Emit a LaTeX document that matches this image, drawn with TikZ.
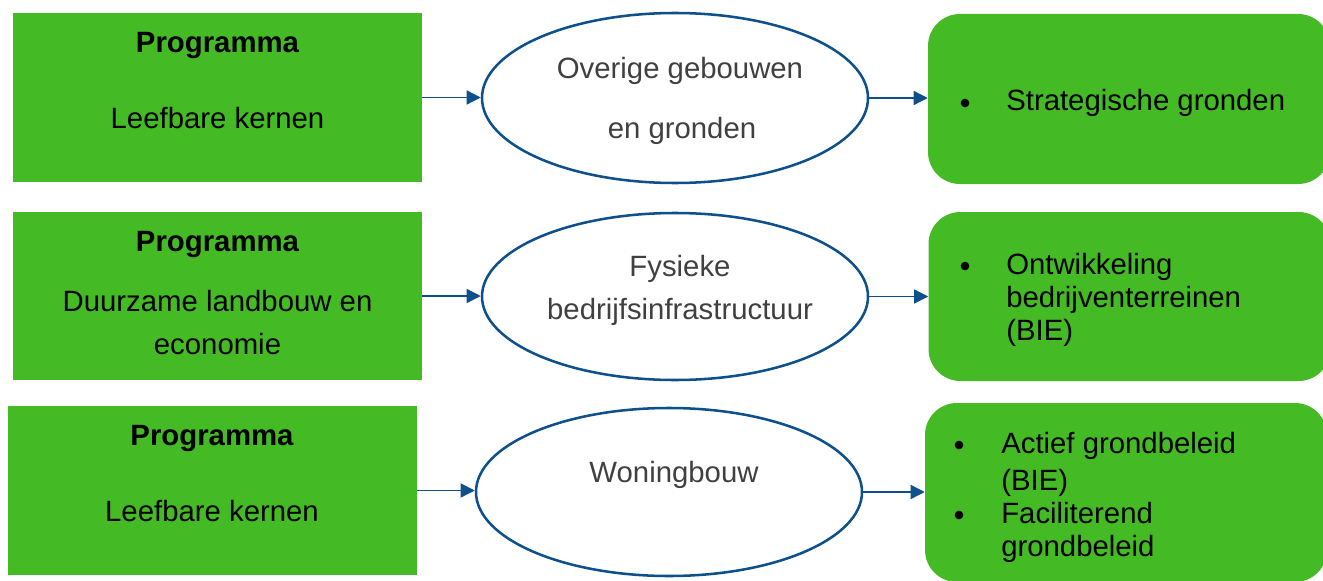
\documentclass[tikz,border=0pt]{standalone}
\usepackage{fontspec}
\setmainfont{Liberation Sans}
\usetikzlibrary{shapes.geometric,arrows.meta}
\definecolor{progreen}{RGB}{68,186,36}
\definecolor{lineblue}{RGB}{14,80,140}
\definecolor{ovaltext}{RGB}{64,64,64}
\tikzset{
	progbox/.style={rectangle, fill=progreen, inner sep=0pt, minimum width=306.75pt},
	oval/.style={ellipse, draw=lineblue, line width=1.9pt, fill=white, inner sep=0pt, minimum width=289.5pt},
	resbox/.style={rectangle, rounded corners=24pt, fill=progreen, inner sep=0pt, minimum width=301.5pt},
	txt/.style={anchor=base, inner sep=0pt, font=\fontsize{22}{26}\selectfont},
	ltxt/.style={txt, anchor=base west},
	dot/.style={circle, fill=black, inner sep=0pt, minimum size=6.5pt},
	arr/.style={draw=lineblue, line width=1pt, -{Triangle[length=10.5pt,width=10.5pt]}}
}

\begin{document}
\begin{tikzpicture}[x=0.75pt, y=-0.75pt]
		\useasboundingbox (0, 0) rectangle (1323, 581);
		% row 1
		\node[progbox, minimum height=126.75pt] (l1) at (217.5, 97.5) {};
		\node[oval, minimum height=127.5pt] (e1) at (675, 98) {};
		\node[resbox, minimum height=127.5pt] (r1) at (1129, 99) {};
		\node[txt, font=\fontsize{22}{26}\selectfont\bfseries] (l1a) at (217.5, 53) {Programma};
		\node[txt] (l1b) at (217.5, 129) {Leefbare kernen};
		\node[txt, text=ovaltext] (e1a) at (680, 79) {Overige gebouwen};
		\node[txt, text=ovaltext] (e1b) at (682, 139) {en gronden};
		\node[dot] (r1d) at (965, 103) {};
		\node[ltxt] (r1a) at (1006, 111) {Strategische gronden};
		\draw[arr] (l1.east) -- (l1.east -| e1.west);
		\draw[arr] (e1.east) -- (e1.east -| r1.west);
		% row 2
		\node[progbox, minimum height=126pt] (l2) at (217.5, 296) {};
		\node[oval, minimum height=125.25pt] (e2) at (675, 296.5) {};
		\node[resbox, minimum height=126.75pt] (r2) at (1129.5, 296.5) {};
		\node[txt, font=\fontsize{22}{26}\selectfont\bfseries] (l2a) at (217.5, 251) {Programma};
		\node[txt] (l2b) at (217.5, 311) {Duurzame landbouw en};
		\node[txt] (l2c) at (217.5, 354) {economie};
		\node[txt, text=ovaltext] (e2a) at (680, 276) {Fysieke};
		\node[txt, text=ovaltext] (e2b) at (680, 319) {bedrijfsinfrastructuur};
		\node[dot] (r2d) at (965, 266) {};
		\node[ltxt] (r2a) at (1006, 274) {Ontwikkeling};
		\node[ltxt] (r2b) at (1006, 307) {bedrijventerreinen};
		\node[ltxt] (r2c) at (1006, 340) {(BIE)};
		\draw[arr] (l2.east) -- (l2.east -| e2.west);
		\draw[arr] (e2.east) -- (e2.east -| r2.west);
		% row 3
		\node[progbox, minimum height=126.75pt] (l3) at (212, 490.5) {};
		\node[oval, minimum height=126pt] (e3) at (669, 492) {};
		\node[resbox, minimum height=134.25pt] (r3) at (1126, 492.5) {};
		\node[txt, font=\fontsize{22}{26}\selectfont\bfseries] (l3a) at (212, 445) {Programma};
		\node[txt] (l3b) at (212, 521) {Leefbare kernen};
		\node[txt, text=ovaltext] (e3a) at (674, 482) {Woningbouw};
		\node[dot] (r3d) at (959, 445) {};
		\node[ltxt] (r3a) at (1001, 453) {Actief grondbeleid};
		\node[ltxt] (r3b) at (1001, 490) {(BIE)};
		\node[dot] (r3e) at (959, 515) {};
		\node[ltxt] (r3c) at (1001, 523) {Faciliterend};
		\node[ltxt] (r3f) at (1001, 556) {grondbeleid};
		\draw[arr] (l3.east) -- (l3.east -| e3.west);
		\draw[arr] (e3.east) -- (e3.east -| r3.west);
	\end{tikzpicture}
\end{document}
